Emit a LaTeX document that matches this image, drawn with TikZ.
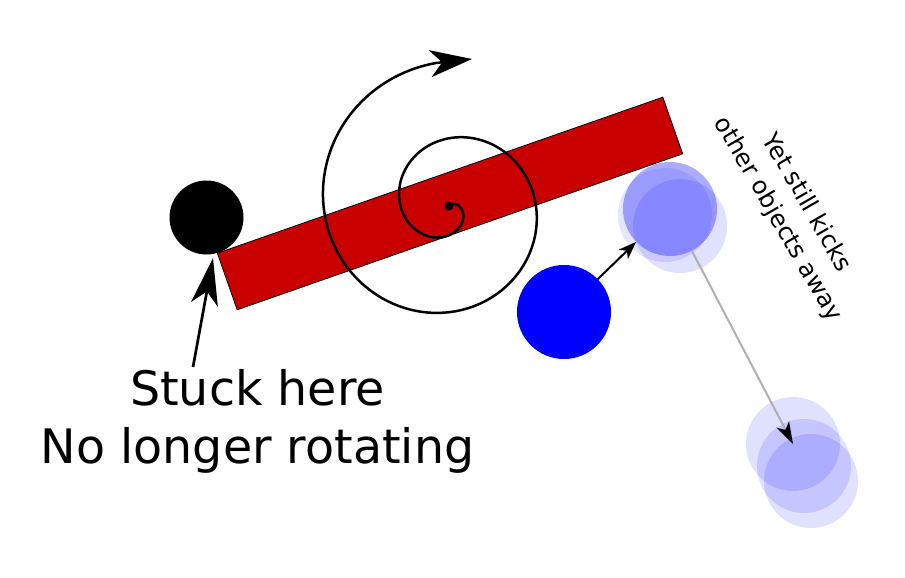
\documentclass[tikz,border=0pt]{standalone}
\usepackage{fontspec}
\setmainfont{DejaVu Sans}
\usetikzlibrary{arrows.meta}
\newcommand\D{94pt}
\newcommand\spa{10}
\newcommand\spb{0.2138}
\newcommand\cx{449}
\newcommand\cy{206}
\definecolor{barred}{RGB}{200,0,0}
\tikzset{
	ball/.style={circle,inner sep=0pt,outer sep=0pt,minimum size=\D},
	ghost/.style={ball,fill=blue,fill opacity=#1}
}

\begin{document}
\begin{tikzpicture}[x=1pt,y=-1pt]
\useasboundingbox (0,0) rectangle (905,578);
\node[draw,fill=barred,line width=0.8pt,minimum width=472pt,minimum height=60pt,inner sep=0pt,rotate=19.3] (bar) at (450,203.5) {};
\node[ball,minimum size=74pt,fill=black] (stuckball) at (206.5,217.5) {};
\node[ball,fill=blue] (pusher) at (564,312) {};
\foreach \n/\x/\y/\o in {C/665/215/0.1,A/670/209/0.33,B/680/226/0.12} {
	\node[ghost=\o] (kick\n) at (\x,\y) {};
}
\foreach \n/\x/\y in {A/793/444,B/804/466,C/811/481} {
	\node[ghost=0.12] (fall\n) at (\x,\y) {};
}
\node[circle,fill,inner sep=0pt,minimum size=9pt] (pivot) at (\cx,\cy) {};
\coordinate (spiraltip) at (472,59);
\draw[line width=2.5pt,-{Stealth[length=42pt,width=27pt,inset=12pt]}]
	plot[domain=-45:625,samples=300,smooth] ({\cx+(\spa+\spb*\x)*cos(\x)},{\cy+(\spa+\spb*\x)*sin(\x)}) -- (spiraltip);
\coordinate (stucktail) at (193,367);
\coordinate (stucktip) at (213,258);
\draw[line width=2.7pt,-{Stealth[length=47pt,width=27pt,inset=13pt]}] (stucktail) -- (stucktip);
\draw[line width=2pt,-{Stealth[length=18pt,width=13pt,inset=5pt]}] (pusher) -- (kickA);
\draw[line width=2pt,black!31,-{Stealth[length=22pt,width=14pt,inset=6pt,black]}] (kickA) -- (fallA.center);
\node[font=\fontsize{47.5}{58}\selectfont,align=center,anchor=north,inner sep=0pt] (stuck) at (257.5,369) {Stuck here\\No longer rotating};
\node[font=\fontsize{24.3}{33}\selectfont,align=center,rotate=-60] (kicks) at (792,211) {Yet still kicks\\other objects away};
\end{tikzpicture}
\end{document}
